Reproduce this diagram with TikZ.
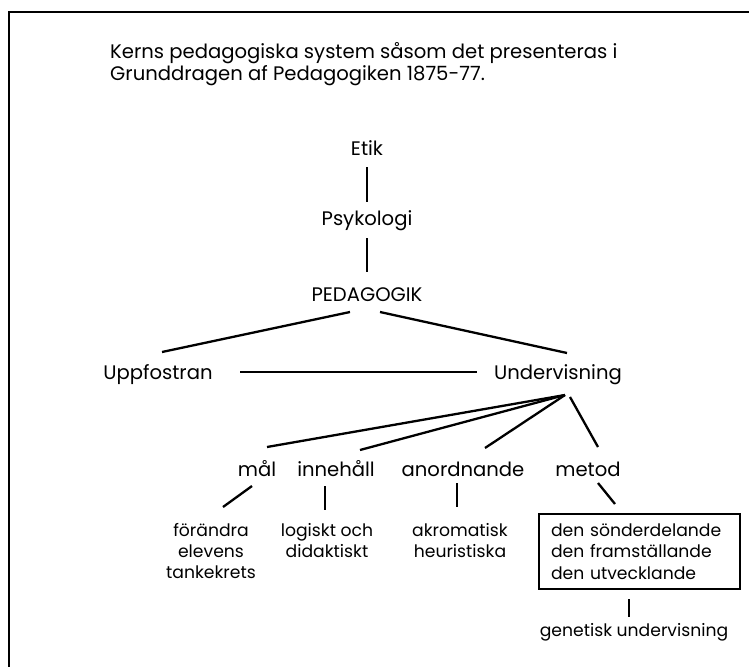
\documentclass[tikz,border=0pt]{standalone}
\usepackage{fontspec}
\setmainfont{Poppins}
\tikzset{
  lbl/.style={inner sep=0pt, anchor=base, font=\fontsize{19.6}{22}\selectfont},
  small/.style={inner sep=0pt, anchor=base, font=\fontsize{17.2}{21.3}\selectfont},
  conn/.style={line width=2.3pt},
  frame/.style={line width=2.6pt}
}
\begin{document}
\begin{tikzpicture}[x=1pt,y=-1pt]
\useasboundingbox (0,0) rectangle (749,667);
% frame
\draw[frame] (749,12) -- (9,12) -- (9,667);
% title
\node[lbl, anchor=base west] (title) at (110,58)
  {\begin{tabular}[t]{@{}l@{}}Kerns pedagogiska system såsom det presenteras i\\
   Grunddragen af Pedagogiken 1875-77.\end{tabular}};
% main hierarchy
\node[lbl] (etik) at (367,155) {Etik};
\node[lbl] (psyk) at (367,225) {Psykologi};
\node[lbl] (ped) at (367,301) {PEDAGOGIK};
\node[lbl] (upp) at (158,379) {Uppfostran};
\node[lbl] (und) at (558,379) {Undervisning};
\node[lbl] (mal) at (257,476) {mål};
\node[lbl] (inne) at (336,476) {innehåll};
\node[lbl] (anord) at (463,476) {anordnande};
\node[lbl] (metod) at (588,476) {metod};
\node[small] (forandra) at (211,536)
  {\begin{tabular}[t]{@{}c@{}}förändra\\ elevens\\ tankekrets\end{tabular}};
\node[small] (logiskt) at (327,536)
  {\begin{tabular}[t]{@{}c@{}}logiskt och\\ didaktiskt\end{tabular}};
\node[small] (akrom) at (460,536)
  {\begin{tabular}[t]{@{}c@{}}akromatisk\\ heuristiska\end{tabular}};
\node[draw, line width=2pt, anchor=center, minimum width=201pt, minimum height=75pt,
  inner xsep=12pt, inner ysep=0pt, text width=177pt, align=left,
  font=\fontsize{17.2}{21.5}\selectfont] (box) at (639.5,551.5)
  {den sönderdelande\\ den framställande\\ den utvecklande};
\node[small] (genetisk) at (634,636) {genetisk undervisning};
% connectors
\draw[conn] ([shift={(0,12)}]etik.base) -- ([shift={(0,-23)}]psyk.base);
\draw[conn] ([shift={(0,13)}]psyk.base) -- ([shift={(0,-29)}]ped.base);
\draw[conn] ([shift={(-17,11)}]ped.base) -- ([shift={(4,-27)}]upp.base);
\draw[conn] ([shift={(13,11)}]ped.base) -- ([shift={(9,-26)}]und.base);
\draw[conn] ([shift={(82,-7)}]upp.base) -- ([shift={(-81,-7)}]und.base);
\draw[conn] ([shift={(7,16)}]und.base) -- ([shift={(10,-29)}]mal.base);
\draw[conn] ([shift={(7,16)}]und.base) -- ([shift={(24,-26)}]inne.base);
\draw[conn] ([shift={(7,16)}]und.base) -- ([shift={(22,-28)}]anord.base);
\draw[conn] ([shift={(12,18)}]und.base) -- ([shift={(10,-29)}]metod.base);
\draw[conn] ([shift={(-5,10)}]mal.base) -- ([shift={(12,-29)}]forandra.base);
\draw[conn] ([shift={(-11,10)}]inne.base) -- ([shift={(-2,-26)}]logiskt.base);
\draw[conn] ([shift={(-6,7)}]anord.base) -- ([shift={(-3,-29)}]akrom.base);
\draw[conn] ([shift={(10,7)}]metod.base) -- ([shift={(-24.5,-9)}]box.north);
\draw[conn] ([shift={(-10.5,9)}]box.south) -- ([shift={(-5,-19)}]genetisk.base);
\end{tikzpicture}
\end{document}
